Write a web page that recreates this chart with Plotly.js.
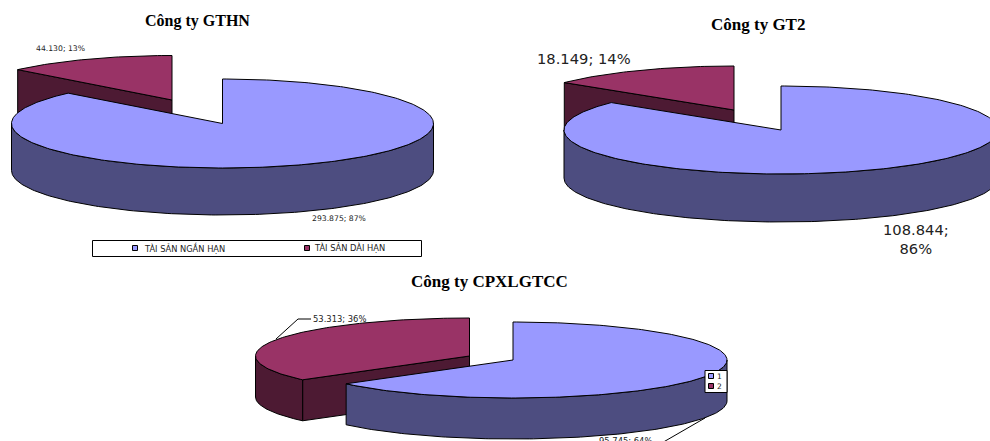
<!DOCTYPE html>
<html>
<head>
<meta charset="utf-8">
<script src="https://cdn.plot.ly/plotly-3.0.1.min.js"></script>
<style>html,body{margin:0;padding:0;background:#fff;overflow:hidden}</style>
</head>
<body>
<div id="chart" style="width:990px;height:441px"></div>
<script>
// Asset structure of three companies: short-term and long-term assets
const companyNames = ['Công ty GTHN', 'Công ty GT2', 'Công ty CPXLGTCC'];
const shortTermAssets = [293875, 108844, 95745];
const longTermAssets = [44130, 18149, 53313];
const assetCategories = ['TÀI SẢN NGẮN HẠN', 'TÀI SẢN DÀI HẠN'];
const defaultCategories = ['1', '2'];

// Drawing setup for each tilted pie (pixel scale of the shared axes)
const pies = [
  {cx: 222.5, cy: 123.5, rx: 211, ry: 44.5, depth: 47, ox: 172, oy: 100, title: [197, 21, 16],
   small: {x: 60.5, y: 48, size: 7.7}, big: {x: 339, y: 218, size: 7.7}},
  {cx: 781, cy: 130, rx: 217, ry: 44, depth: 48, ox: 734, oy: 110, title: [757.5, 24, 17],
   small: {x: 583.5, y: 58, size: 14.7}, big: {x: 916, y: 238.5, size: 14.7}},
  {cx: 513, cy: 360, rx: 214, ry: 38, depth: 41, ox: 469.5, oy: 356, title: [489, 281, 17],
   small: {x: 339.5, y: 319, size: 8.4}, big: {x: 625, y: 441, size: 8.4}}
];

const TOP = ['#9999FF', '#993366'];
const SIDE = ['#4D4D80', '#4D1A33'];
const DEG = Math.PI / 180;

const point = (p, cx, cy, deg, drop) => [
  cx + p.rx * Math.sin(deg * DEG),
  cy - p.ry * Math.cos(deg * DEG) + (drop || 0)
];

function arc(p, cx, cy, from, to, drop) {
  const out = [];
  const steps = Math.max(2, Math.ceil(Math.abs(to - from)));
  for (let i = 0; i <= steps; i++) out.push(point(p, cx, cy, from + (to - from) * i / steps, drop));
  return out;
}

function polygon(pts, color) {
  const closed = pts.concat([pts[0]]);
  return {
    x: closed.map(q => q[0]), y: closed.map(q => q[1]),
    mode: 'lines', fill: 'toself', fillcolor: color,
    line: {color: '#000', width: 1}, hoverinfo: 'skip', showlegend: false
  };
}

function wallFor(p, cx, cy, from, to, color) {
  const top = arc(p, cx, cy, from, to, 0);
  const bottom = arc(p, cx, cy, to, from, p.depth);
  return polygon(top.concat(bottom), color);
}

const traces = [];
const annotations = [];
const fmt = v => String(v).replace(/\B(?=(\d{3})+$)/g, '.');
const label = (x, y, text, size, family, color, bold, anchor) => annotations.push({
  x, y, xref: 'x', yref: 'y', text: bold ? '<b>' + text + '</b>' : text,
  showarrow: false, xanchor: anchor || 'center', yanchor: 'middle', align: 'center',
  font: {size, family, color: color || '#000'}, borderpad: 0, borderwidth: 0
});

pies.forEach((p, i) => {
  const total = shortTermAssets[i] + longTermAssets[i];
  const mainEnd = 360 * shortTermAssets[i] / total;

  // Pulled-out long-term slice, drawn first so the main slice overlaps it
  const apexDrop = [p.ox, p.oy + p.depth];
  const edge = point(p, p.ox, p.oy, mainEnd, 0);
  const edgeDrop = point(p, p.ox, p.oy, mainEnd, p.depth);
  traces.push(polygon([[p.ox, p.oy], edge, edgeDrop, apexDrop], SIDE[1]));
  if (mainEnd < 270) traces.push(wallFor(p, p.ox, p.oy, mainEnd, 270, SIDE[1]));
  traces.push(polygon([[p.ox, p.oy]].concat(arc(p, p.ox, p.oy, mainEnd, 360, 0)), TOP[1]));

  // Main short-term slice
  traces.push(wallFor(p, p.cx, p.cy, 90, Math.min(270, mainEnd), SIDE[0]));
  traces.push(polygon([[p.cx, p.cy]].concat(arc(p, p.cx, p.cy, 0, mainEnd, 0)), TOP[0]));

  const a = Math.round(100 * shortTermAssets[i] / total);
  const b = Math.round(100 * longTermAssets[i] / total);
  label(p.title[0], p.title[1], companyNames[i], p.title[2], '"Liberation Serif", serif', '#000', true);
  label(p.small.x, p.small.y, fmt(longTermAssets[i]) + '; ' + b + '%', p.small.size, '"DejaVu Sans", sans-serif', '#222');
  const bigText = i === 1 ? fmt(shortTermAssets[i]) + ';<br>' + a + '%' : fmt(shortTermAssets[i]) + '; ' + a + '%';
  label(p.big.x, p.big.y, bigText, p.big.size, '"DejaVu Sans", sans-serif', '#222');
});

// Leader lines of the third pie
[[[276, 339], [298, 319], [311, 319]], [[705, 418], [668, 439], [660, 444]]].forEach(seg => traces.push({
  x: seg.map(q => q[0]), y: seg.map(q => q[1]), mode: 'lines',
  line: {color: '#000', width: 1}, hoverinfo: 'skip', showlegend: false
}));

// Legend frames and swatches
traces.push(polygon([[705, 370.5], [727, 370.5], [727, 392.5], [705, 392.5]], '#fff'));
function swatches(xs, ys) {
  traces.push({
    x: xs, y: ys, mode: 'markers',
    marker: {symbol: 'square', size: 5, color: TOP, line: {color: '#000', width: 1}},
    hoverinfo: 'skip', showlegend: false
  });
}
swatches([135, 307], [248, 248]);
swatches([711, 711], [376, 386]);
label(184, 248, assetCategories[0], 8.3, '"DejaVu Sans", sans-serif', '#222');
label(349, 248, assetCategories[1], 8.3, '"DejaVu Sans", sans-serif', '#222');
label(719, 376, defaultCategories[0], 7.5, '"DejaVu Sans", sans-serif', '#222');
label(719, 386, defaultCategories[1], 7.5, '"DejaVu Sans", sans-serif', '#222');

const layout = {
  width: 990, height: 441,
  margin: {l: 0, r: 0, t: 0, b: 0},
  paper_bgcolor: '#fff', plot_bgcolor: '#fff',
  showlegend: false,
  xaxis: {range: [0, 990], visible: false, fixedrange: true},
  yaxis: {range: [441, 0], visible: false, fixedrange: true},
  annotations,
  shapes: [
    {type: 'rect', xref: 'x', yref: 'y', x0: 92.5, y0: 240.5, x1: 421.5, y1: 256.5,
     line: {color: '#000', width: 1}, fillcolor: 'rgba(255,255,255,0)', layer: 'below'}
  ]
};

Plotly.newPlot('chart', traces, layout, {displayModeBar: false, staticPlot: true});
</script>
</body>
</html>
